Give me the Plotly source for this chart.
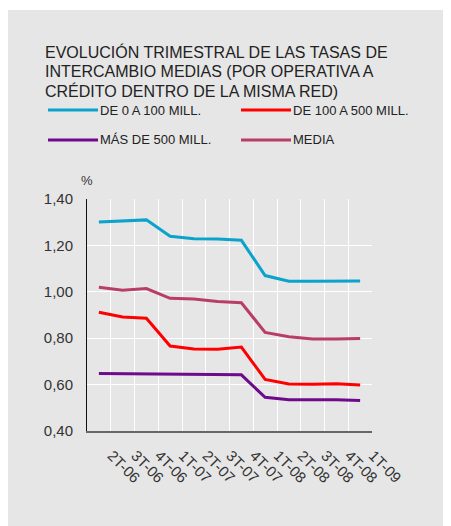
import plotly.graph_objects as go

# Page places the figure at an 8px body margin; positions below are
# taken in reference-page pixels and converted.
OFF = 8
W, H = 451 - OFF, 526 - OFF
PLOT_L, PLOT_R, PLOT_T, PLOT_B = 87, 372, 199, 431  # reference-page px
ML = PLOT_L - OFF
MR = W - (PLOT_R - OFF)
MT = PLOT_T - OFF
MB = H - (PLOT_B - OFF)
PW, PH = W - ML - MR, H - MT - MB

categories = ["2T-06", "3T-06", "4T-06", "1T-07", "2T-07", "3T-07",
              "4T-07", "1T-08", "2T-08", "3T-08", "4T-08", "1T-09"]
de_0_a_100 = [1.301, 1.306, 1.310, 1.239, 1.229, 1.228, 1.222, 1.070, 1.046, 1.046, 1.048, 1.047]
de_100_a_500 = [0.912, 0.891, 0.886, 0.766, 0.753, 0.752, 0.762, 0.622, 0.603, 0.601, 0.604, 0.598]
mas_de_500 = [0.648, 0.647, 0.645, 0.645, 0.645, 0.645, 0.642, 0.545, 0.535, 0.535, 0.535, 0.531]
media = [1.020, 1.007, 1.014, 0.972, 0.969, 0.958, 0.953, 0.825, 0.806, 0.797, 0.797, 0.799]

series_names = ["DE 0 A 100 MILL.", "DE 100 A 500 MILL.", "MÁS DE 500 MILL.", "MEDIA"]
series_values = [de_0_a_100, de_100_a_500, mas_de_500, media]
series_colors = ["#0ba3cb", "#ff0000", "#6e0b8c", "#b83d68"]

title_lines = ["EVOLUCIÓN TRIMESTRAL DE LAS TASAS DE",
               "INTERCAMBIO MEDIAS (POR OPERATIVA A",
               "CRÉDITO DENTRO DE LA MISMA RED)"]

FONT = "Liberation Sans, Arial, Helvetica, sans-serif"
BG = "#e6e6e6"


def px_x(px):
    # px in reference-page coordinates
    return (px - OFF - ML) / PW


def px_y(py):
    return (H - MB - (py - OFF)) / PH


fig = go.Figure()
order = [3, 0, 1, 2]
for i in order:
    fig.add_trace(go.Scatter(
        x=categories, y=series_values[i], mode="lines", name=series_names[i],
        line=dict(color=series_colors[i], width=3), showlegend=False,
    ))

shapes = [
    dict(type="rect", xref="paper", yref="paper", x0=px_x(0), x1=px_x(460),
         y0=px_y(10), y1=px_y(0), fillcolor="white", line=dict(width=0), layer="below"),
]
annotations = []
for k, line in enumerate(title_lines):
    annotations.append(dict(
        text=line, xref="paper", yref="paper", x=px_x(43), y=px_y(52 + k * 19.5),
        xanchor="left", yanchor="middle", showarrow=False,
        font=dict(family=FONT, size=16, color="#222222")))

legend_pos = [(48, 110), (241, 110), (48, 140), (241, 140)]
for (lx, ly), name, color in zip(legend_pos, series_names, series_colors):
    shapes.append(dict(type="line", xref="paper", yref="paper",
                       x0=px_x(lx), x1=px_x(lx + 50), y0=px_y(ly), y1=px_y(ly),
                       line=dict(color=color, width=3)))
    annotations.append(dict(
        text=name, xref="paper", yref="paper", x=px_x(lx + 50), y=px_y(ly),
        xanchor="left", yanchor="middle", showarrow=False,
        font=dict(family=FONT, size=13, color="#222222")))

annotations.append(dict(
    text="%", xref="paper", yref="paper", x=px_x(87), y=px_y(181),
    xanchor="center", yanchor="middle", showarrow=False,
    font=dict(family=FONT, size=13, color="#333333")))

fig.update_layout(
    width=W, height=H,
    margin=dict(l=ML, r=MR, t=MT, b=MB, pad=0),
    paper_bgcolor=BG, plot_bgcolor=BG,
    separators=",.",
    font=dict(family=FONT, size=15, color="#333333"),
    shapes=shapes, annotations=annotations,
    xaxis=dict(
        type="category", range=[-0.5, 11.5], tickson="boundaries",
        showgrid=True, gridcolor="white", gridwidth=1,
        ticks="", tickangle=45, showline=True, linecolor="#666666", linewidth=2,
        tickfont=dict(family=FONT, size=15, color="#333333"),
        ticklabelstandoff=8, ticklabelshift=13,
        fixedrange=True,
    ),
    yaxis=dict(
        range=[0.4, 1.4], dtick=0.2, tick0=0.4, tickformat=".2f",
        showgrid=True, gridcolor="white", gridwidth=1, zeroline=False,
        ticks="", showline=True, linecolor="#111111", linewidth=1,
        tickfont=dict(family=FONT, size=15, color="#333333"), ticklabelstandoff=10,
        fixedrange=True,
    ),
)

fig.write_html("out.html")
